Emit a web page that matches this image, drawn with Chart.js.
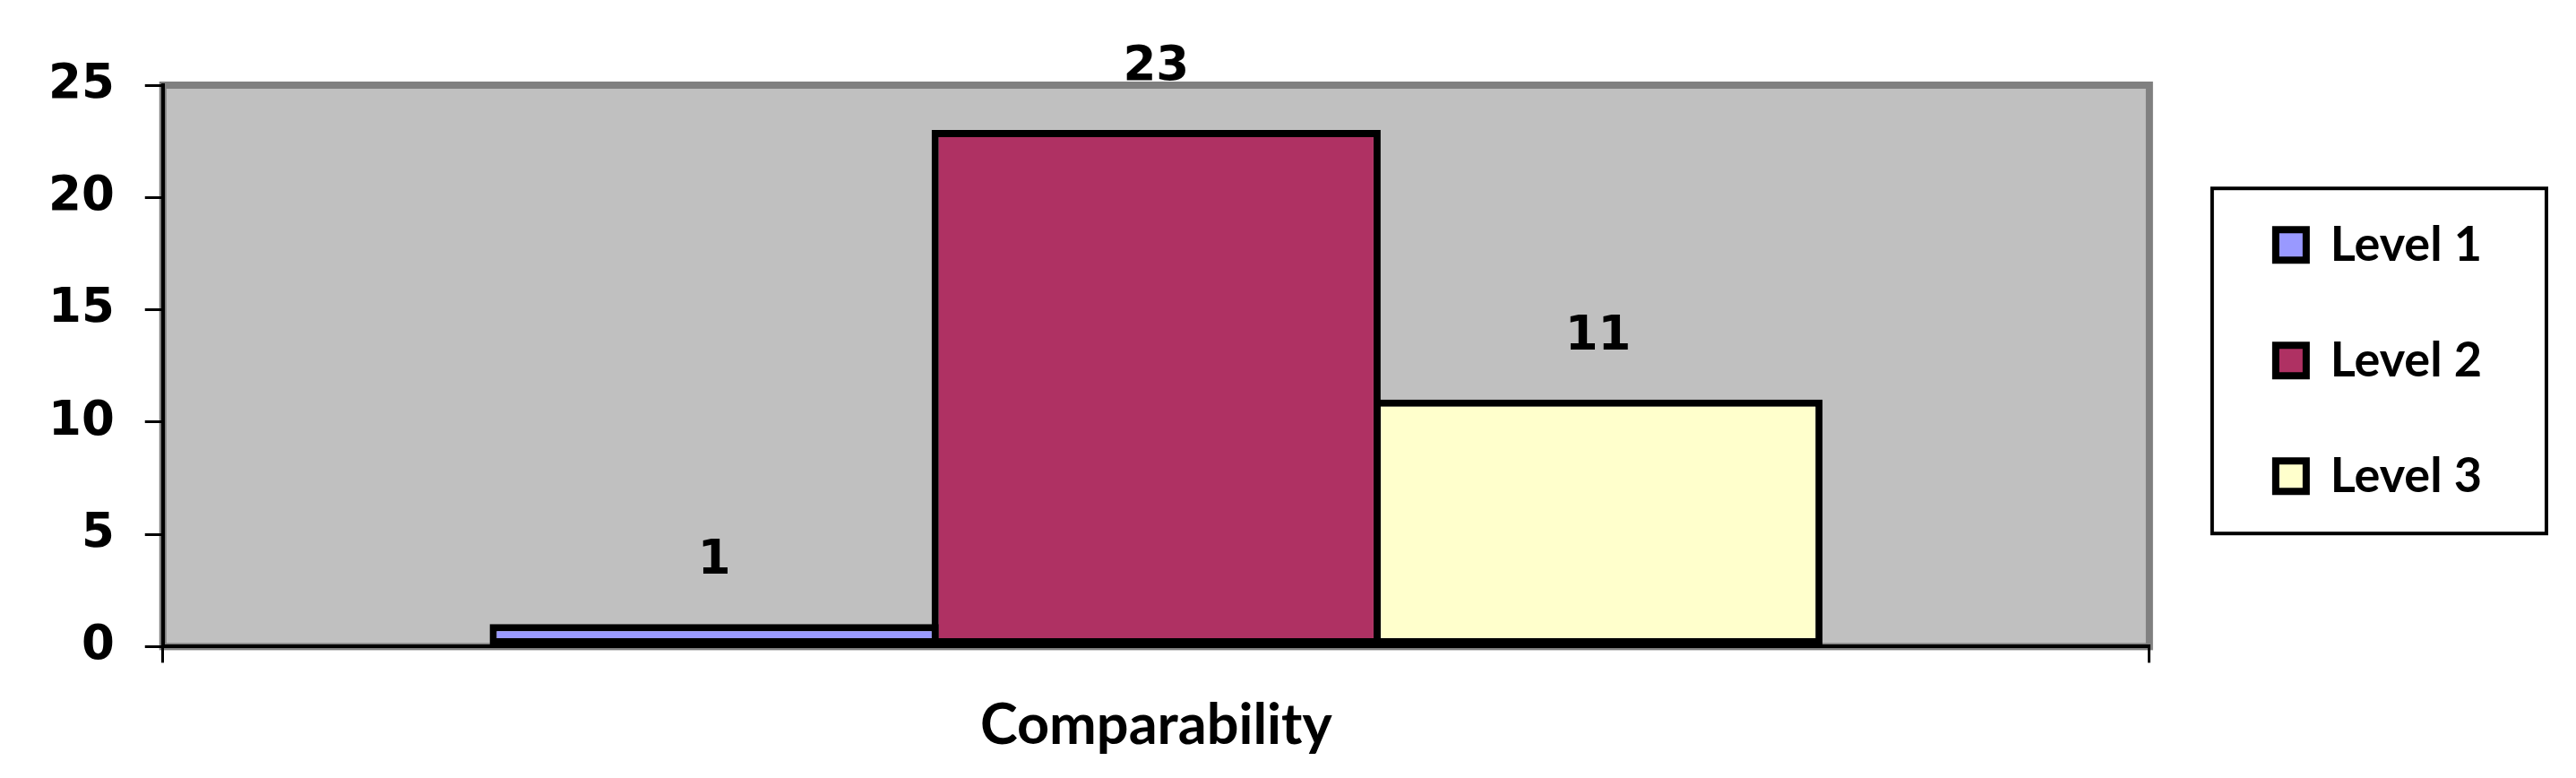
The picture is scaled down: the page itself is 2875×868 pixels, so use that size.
<!DOCTYPE html>
<html>
<head>
<meta charset="utf-8">
<title>Comparability</title>
<script src="https://cdn.jsdelivr.net/npm/chart.js@4.4.1/dist/chart.umd.min.js"></script>
<style>
  html, body { margin: 0; padding: 0; background: #fff; }
  #wrap { width: 2875px; height: 868px; }
</style>
</head>
<body>
<div id="wrap"><canvas id="levelChart" width="2875" height="868"></canvas></div>
<script>
// data
const categories = ['Comparability'];
const seriesNames = ['Level 1', 'Level 2', 'Level 3'];
const level1 = [1];
const level2 = [23];
const level3 = [11];
const yTicks = [0, 5, 10, 15, 20, 25];

const fills = ['#9999FF', '#AF3163', '#FFFFCC'];
const TEXT_FONT = 'Lato';
const NUM_FONT = 'DejaVu Sans';

// grey plot area with a darker frame, like the old Excel look
const plotBack = {
  id: 'plotBack',
  beforeDraw(chart){
    const a = chart.chartArea, ctx = chart.ctx;
    ctx.save();
    ctx.fillStyle = '#C0C0C0';
    ctx.fillRect(a.left, a.top, a.right - a.left, a.bottom - a.top);
    ctx.strokeStyle = '#808080';
    ctx.lineWidth = 8;
    ctx.strokeRect(a.left, a.top, a.right - a.left, a.bottom - a.top);
    ctx.restore();
  }
};

// value labels above each bar
const valueLabels = {
  id: 'valueLabels',
  afterDatasetsDraw(chart){
    const ctx = chart.ctx;
    ctx.save();
    ctx.fillStyle = '#000';
    ctx.font = 'bold 53px ' + NUM_FONT;
    ctx.textAlign = 'center';
    ctx.textBaseline = 'alphabetic';
    chart.data.datasets.forEach((ds, i) => {
      chart.getDatasetMeta(i).data.forEach((bar, j) => {
        ctx.fillText(String(ds.data[j]), bar.x, bar.y - 56);
      });
    });
    ctx.restore();
  }
};

// nudge the legend and put a box round it
const legendBox = {
  id: 'legendBox',
  afterLayout(chart){
    const lg = chart.legend;
    if(!lg) return;
    lg.left += 66; lg.right += 66;
    lg.top -= 6; lg.bottom -= 6;
  },
  afterDraw(chart){
    const hb = chart.legend && chart.legend.legendHitBoxes;
    if(!hb || !hb.length) return;
    const left = Math.min(...hb.map(h => h.left));
    const right = Math.max(...hb.map(h => h.left + h.width));
    const top = hb[0].top;
    const bottom = hb[hb.length - 1].top + hb[hb.length - 1].height;
    const ctx = chart.ctx;
    ctx.save();
    ctx.strokeStyle = '#000';
    ctx.lineWidth = 4;
    ctx.strokeRect(left - 71, top - 36, (right + 72) - (left - 71), (bottom + 37) - (top - 36));
    ctx.restore();
  }
};

const seriesData = [level1, level2, level3];
const datasets = seriesNames.map((name, i) => ({
  label: name,
  data: seriesData[i],
  backgroundColor: fills[i],
  borderColor: '#000',
  borderWidth: 8,
  borderSkipped: false,
  categoryPercentage: 0.6674,
  barPercentage: 1.0162
}));

new Chart(document.getElementById('levelChart'), {
  type: 'bar',
  data: { labels: categories, datasets },
  options: {
    responsive: false,
    animation: false,
    devicePixelRatio: 1,
    layout: { padding: { left: 20, top: 95, right: 161, bottom: -11 } },
    plugins: {
      tooltip: { enabled: false },
      legend: {
        position: 'right',
        fullSize: false,
        labels: {
          color: '#000',
          font: { family: TEXT_FONT, weight: 'bold', size: 54 },
          boxWidth: 34,
          boxHeight: 34,
          padding: 75
        }
      }
    },
    scales: {
      x: {
        grid: { display: true, drawOnChartArea: false, color: '#000', lineWidth: 3, tickLength: 18 },
        border: { display: true, color: '#000', width: 4 },
        ticks: { color: '#000', padding: 32, font: { family: TEXT_FONT, weight: 'bold', size: 63 } }
      },
      y: {
        min: 0,
        max: 25,
        afterBuildTicks: s => { s.ticks = yTicks.map(v => ({ value: v })); },
        grid: { display: true, drawOnChartArea: false, color: '#000', lineWidth: 3, tickLength: 20 },
        border: { display: true, color: '#000', width: 4 },
        ticks: { color: '#000', padding: 34, font: { family: NUM_FONT, weight: 'bold', size: 53 } }
      }
    }
  },
  plugins: [plotBack, valueLabels, legendBox]
});
</script>
</body>
</html>
